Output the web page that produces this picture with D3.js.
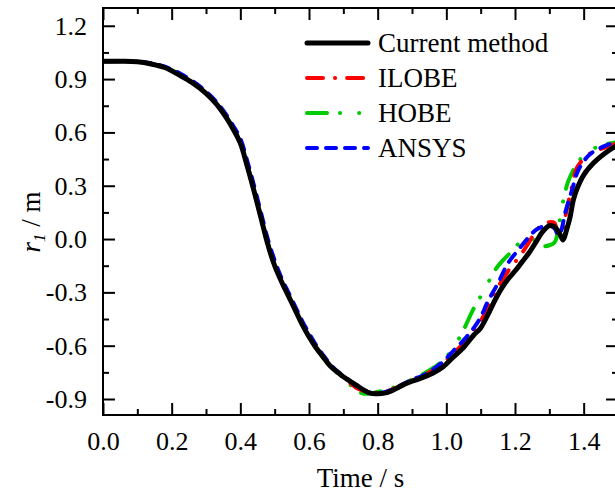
<!DOCTYPE html>
<html>
<head>
<meta charset="utf-8">
<script src="https://cdn.jsdelivr.net/npm/d3@7"></script>
<style>
  body { margin: 0; background: #fff; }
  svg { display: block; font-family: "Liberation Serif", "Times New Roman", serif; }
</style>
</head>
<body>
<div id="chart"></div>
<script>
// r1 displacement vs time, four methods
const timeCurrent = [0.00, 0.05, 0.10, 0.14, 0.18, 0.22, 0.26, 0.30, 0.33, 0.36, 0.38, 0.40, 0.42, 0.44, 0.46, 0.48, 0.50, 0.52, 0.54, 0.56, 0.58, 0.60, 0.62, 0.64, 0.66, 0.68, 0.70, 0.72, 0.74, 0.76, 0.78, 0.80, 0.82, 0.84, 0.86, 0.88, 0.90, 0.93, 0.96, 0.99, 1.02, 1.05, 1.08, 1.10, 1.12, 1.14, 1.16, 1.18, 1.20, 1.22, 1.24, 1.26, 1.28, 1.30, 1.315, 1.33, 1.34, 1.35, 1.36, 1.37, 1.38, 1.40, 1.43, 1.46, 1.50];
const rCurrent = [1.000, 1.000, 0.997, 0.985, 0.965, 0.925, 0.88, 0.82, 0.76, 0.68, 0.615, 0.54, 0.41, 0.27, 0.12, -0.03, -0.15, -0.24, -0.32, -0.40, -0.48, -0.55, -0.61, -0.66, -0.71, -0.745, -0.775, -0.80, -0.825, -0.85, -0.868, -0.87, -0.867, -0.855, -0.835, -0.815, -0.80, -0.78, -0.755, -0.72, -0.665, -0.61, -0.54, -0.50, -0.43, -0.35, -0.28, -0.225, -0.18, -0.13, -0.08, -0.02, 0.04, 0.075, 0.07, 0.03, -0.005, 0.05, 0.12, 0.22, 0.28, 0.36, 0.43, 0.48, 0.53];

const timeIlobe = [0.00, 0.10, 0.18, 0.26, 0.30, 0.34, 0.38, 0.40, 0.42, 0.44, 0.46, 0.48, 0.50, 0.52, 0.54, 0.56, 0.58, 0.60, 0.62, 0.64, 0.66, 0.68, 0.70, 0.72, 0.74, 0.77, 0.79, 0.82, 0.85, 0.88, 0.90, 0.93, 0.96, 0.99, 1.02, 1.05, 1.08, 1.10, 1.12, 1.14, 1.16, 1.18, 1.20, 1.22, 1.24, 1.26, 1.28, 1.30, 1.315, 1.325, 1.335, 1.35, 1.37, 1.38, 1.41, 1.44, 1.50];
const rIlobe = [1.000, 0.997, 0.965, 0.88, 0.82, 0.735, 0.615, 0.54, 0.41, 0.27, 0.12, -0.03, -0.15, -0.24, -0.32, -0.40, -0.48, -0.55, -0.61, -0.66, -0.71, -0.745, -0.78, -0.81, -0.84, -0.86, -0.865, -0.86, -0.84, -0.81, -0.795, -0.77, -0.74, -0.70, -0.645, -0.585, -0.51, -0.46, -0.39, -0.31, -0.24, -0.18, -0.13, -0.08, -0.02, 0.04, 0.085, 0.095, 0.09, 0.03, 0.03, 0.16, 0.33, 0.40, 0.47, 0.50, 0.54];

const timeHobe = [0.00, 0.10, 0.18, 0.26, 0.30, 0.34, 0.38, 0.40, 0.42, 0.44, 0.46, 0.48, 0.50, 0.52, 0.54, 0.56, 0.58, 0.60, 0.62, 0.64, 0.66, 0.68, 0.70, 0.72, 0.74, 0.76, 0.78, 0.80, 0.83, 0.86, 0.90, 0.95, 0.98, 1.01, 1.04, 1.08, 1.11, 1.14, 1.16, 1.19, 1.22, 1.245, 1.265, 1.28, 1.30, 1.315, 1.33, 1.341, 1.356, 1.38, 1.41, 1.46, 1.50];
const rHobe = [1.000, 0.997, 0.966, 0.885, 0.825, 0.74, 0.625, 0.55, 0.42, 0.28, 0.13, -0.02, -0.14, -0.235, -0.315, -0.40, -0.48, -0.55, -0.61, -0.665, -0.715, -0.75, -0.79, -0.82, -0.855, -0.87, -0.868, -0.86, -0.845, -0.825, -0.79, -0.74, -0.70, -0.64, -0.55, -0.39, -0.29, -0.18, -0.13, -0.07, -0.01, 0.005, -0.02, -0.04, -0.035, -0.02, 0.10, 0.22, 0.33, 0.42, 0.49, 0.53, 0.545];

const timeAnsys = [0.00, 0.10, 0.18, 0.26, 0.30, 0.34, 0.38, 0.40, 0.42, 0.44, 0.46, 0.48, 0.50, 0.52, 0.54, 0.56, 0.58, 0.60, 0.62, 0.64, 0.66, 0.68, 0.70, 0.72, 0.74, 0.76, 0.78, 0.80, 0.82, 0.85, 0.88, 0.90, 0.93, 0.96, 0.99, 1.02, 1.05, 1.08, 1.10, 1.12, 1.15, 1.18, 1.21, 1.24, 1.26, 1.28, 1.30, 1.315, 1.327, 1.335, 1.346, 1.366, 1.385, 1.42, 1.47, 1.50];
const rAnsys = [1.000, 0.998, 0.97, 0.89, 0.83, 0.75, 0.635, 0.565, 0.44, 0.30, 0.15, 0.0, -0.12, -0.22, -0.30, -0.38, -0.46, -0.53, -0.595, -0.65, -0.70, -0.74, -0.77, -0.80, -0.83, -0.85, -0.865, -0.868, -0.862, -0.84, -0.81, -0.79, -0.77, -0.735, -0.69, -0.63, -0.57, -0.50, -0.44, -0.355, -0.25, -0.135, -0.06, 0.01, 0.05, 0.07, 0.075, 0.06, 0.02, 0.05, 0.146, 0.275, 0.39, 0.48, 0.53, 0.545];

const seriesNames = ["Current method", "ILOBE", "HOBE", "ANSYS"];
const xMajorTicks = [0.0, 0.2, 0.4, 0.6, 0.8, 1.0, 1.2, 1.4];
const xMinorTicks = [0.1, 0.3, 0.5, 0.7, 0.9, 1.1, 1.3, 1.5];
const yMajorTicks = [-0.9, -0.6, -0.3, 0.0, 0.3, 0.6, 0.9, 1.2];
const yMinorTicks = [-0.75, -0.45, -0.15, 0.15, 0.45, 0.75, 1.05];

const width = 615, height = 492;
const plotLeft = 103, plotRight = 618, plotTop = 8, plotBottom = 415;

const svg = d3.select("#chart").append("svg")
    .attr("width", width)
    .attr("height", height);

const x = d3.scaleLinear().domain([0, 1.5]).range([plotLeft, plotRight]);
const y = d3.scaleLinear().domain([-0.99, 1.3]).range([plotBottom, plotTop]);

svg.append("clipPath").attr("id", "clip")
  .append("rect")
    .attr("x", plotLeft).attr("y", plotTop)
    .attr("width", plotRight - plotLeft).attr("height", plotBottom - plotTop);

// styles per series
const styles = [
    { color: "#000000", width: 5, dash: null },
    { color: "#ff0000", width: 4, dash: "16,12,0.1,12" },
    { color: "#00cc00", width: 4, dash: "20,13,0.1,19,0.1,13" },
    { color: "#0000ff", width: 4, dash: "10,9" }
];

const toPoints = (ts, vs) => ts.map((t, i) => [t, vs[i]]);
const data = [
    toPoints(timeCurrent, rCurrent),
    toPoints(timeIlobe, rIlobe),
    toPoints(timeHobe, rHobe),
    toPoints(timeAnsys, rAnsys)
];

const line = d3.line()
    .x(d => x(d[0]))
    .y(d => y(d[1]))
    .curve(d3.curveCatmullRom.alpha(0.5));

const plot = svg.append("g").attr("clip-path", "url(#clip)");

// colored first, black on top
[2, 1, 3, 0].forEach(i => {
    plot.append("path")
        .datum(data[i])
        .attr("d", line)
        .attr("fill", "none")
        .attr("stroke", styles[i].color)
        .attr("stroke-width", styles[i].width)
        .attr("stroke-linecap", "round")
        .attr("stroke-linejoin", "round")
        .attr("stroke-dasharray", styles[i].dash);
});

// axes, ticks inward on all four sides
function styleAxis(g) {
    g.select(".domain").remove();
    g.selectAll(".tick line").attr("stroke", "#000").attr("stroke-width", 2);
    g.selectAll("text").attr("fill", "#000").style("font-size", "26px")
        .style("font-family", "'Liberation Serif', 'Times New Roman', serif");
}

svg.append("g")
    .attr("transform", `translate(0,${plotBottom})`)
    .call(d3.axisBottom(x).tickValues(xMajorTicks).tickSize(-12).tickPadding(17).tickFormat(d3.format(".1f")))
    .call(styleAxis);
svg.append("g")
    .attr("transform", `translate(0,${plotBottom})`)
    .call(d3.axisBottom(x).tickValues(xMinorTicks).tickSize(-6).tickFormat(""))
    .call(styleAxis);
svg.append("g")
    .attr("transform", `translate(0,${plotTop})`)
    .call(d3.axisTop(x).tickValues(xMajorTicks).tickSize(-12).tickFormat(""))
    .call(styleAxis);
svg.append("g")
    .attr("transform", `translate(0,${plotTop})`)
    .call(d3.axisTop(x).tickValues(xMinorTicks).tickSize(-6).tickFormat(""))
    .call(styleAxis);

svg.append("g")
    .attr("transform", `translate(${plotLeft},0)`)
    .call(d3.axisLeft(y).tickValues(yMajorTicks).tickSize(-12).tickPadding(16).tickFormat(d3.format(".1f")))
    .call(styleAxis);
svg.append("g")
    .attr("transform", `translate(${plotLeft},0)`)
    .call(d3.axisLeft(y).tickValues(yMinorTicks).tickSize(-6).tickFormat(""))
    .call(styleAxis);
svg.append("g")
    .attr("transform", `translate(${plotRight},0)`)
    .call(d3.axisRight(y).tickValues(yMajorTicks).tickSize(-12).tickFormat(""))
    .call(styleAxis);
svg.append("g")
    .attr("transform", `translate(${plotRight},0)`)
    .call(d3.axisRight(y).tickValues(yMinorTicks).tickSize(-6).tickFormat(""))
    .call(styleAxis);

// plain hyphen minus like the original
svg.selectAll(".tick text").text(function () { return d3.select(this).text().replace("\u2212", "-"); });

svg.append("rect")
    .attr("x", plotLeft).attr("y", plotTop)
    .attr("width", plotRight - plotLeft).attr("height", plotBottom - plotTop)
    .attr("fill", "none")
    .attr("stroke", "#000")
    .attr("stroke-width", 2);

// axis titles
svg.append("text")
    .attr("x", (plotLeft + plotRight) / 2)
    .attr("y", 487)
    .attr("text-anchor", "middle")
    .style("font-size", "27px")
    .text("Time / s");

const yTitle = svg.append("text")
    .attr("transform", "translate(40,222) rotate(-90)")
    .attr("text-anchor", "middle")
    .style("font-size", "27px");
yTitle.append("tspan").style("font-style", "italic").text("r");
yTitle.append("tspan").style("font-style", "italic").style("font-size", "17px").attr("dy", 5).text("1");
yTitle.append("tspan").attr("dy", -5).text(" / m");

// legend
const legend = svg.append("g");
seriesNames.forEach((name, i) => {
    const yy = 43 + i * 35;
    legend.append("line")
        .attr("x1", 307).attr("x2", 368)
        .attr("y1", yy).attr("y2", yy)
        .attr("stroke", styles[i].color)
        .attr("stroke-width", styles[i].width)
        .attr("stroke-linecap", "round")
        .attr("stroke-dasharray", styles[i].dash);
    legend.append("text")
        .attr("x", 378)
        .attr("y", yy + 9)
        .style("font-size", "27px")
        .text(name);
});
</script>
</body>
</html>
